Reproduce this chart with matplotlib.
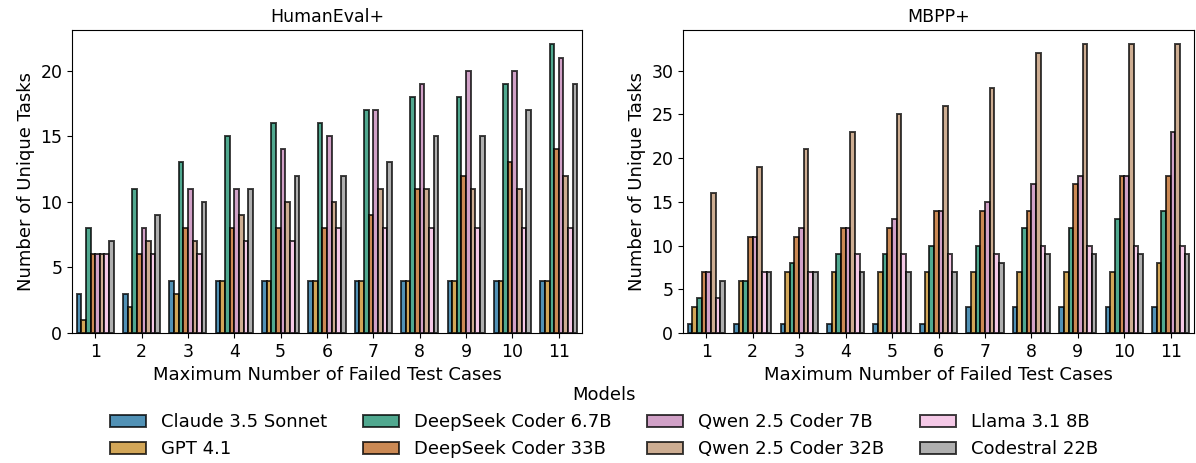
import matplotlib
matplotlib.use("Agg")
import matplotlib.pyplot as plt
import numpy as np
import seaborn as sns

models = ["Claude 3.5 Sonnet", "GPT 4.1", "DeepSeek Coder 6.7B", "DeepSeek Coder 33B",
          "Qwen 2.5 Coder 7B", "Qwen 2.5 Coder 32B", "Llama 3.1 8B", "Codestral 22B"]
x_labels = [str(i) for i in range(1, 12)]

humaneval_claude    = [3, 3, 4, 4, 4, 4, 4, 4, 4, 4, 4]
humaneval_gpt41     = [1, 2, 3, 4, 4, 4, 4, 4, 4, 4, 4]
humaneval_ds67      = [8, 11, 13, 15, 16, 16, 17, 18, 18, 19, 22]
humaneval_ds33      = [6, 6, 8, 8, 8, 8, 9, 11, 12, 13, 14]
humaneval_qwen7     = [6, 8, 11, 11, 14, 15, 17, 19, 20, 20, 21]
humaneval_qwen32    = [6, 7, 7, 9, 10, 10, 11, 11, 11, 11, 12]
humaneval_llama8    = [6, 6, 6, 7, 7, 8, 8, 8, 8, 8, 8]
humaneval_codestral = [7, 9, 10, 11, 12, 12, 13, 15, 15, 17, 19]

mbpp_claude    = [1, 1, 1, 1, 1, 1, 3, 3, 3, 3, 3]
mbpp_gpt41     = [3, 6, 7, 7, 7, 7, 7, 7, 7, 7, 8]
mbpp_ds67      = [4, 6, 8, 9, 9, 10, 10, 12, 12, 13, 14]
mbpp_ds33      = [7, 11, 11, 12, 12, 14, 14, 14, 17, 18, 18]
mbpp_qwen7     = [7, 11, 12, 12, 13, 14, 15, 17, 18, 18, 23]
mbpp_qwen32    = [16, 19, 21, 23, 25, 26, 28, 32, 33, 33, 33]
mbpp_llama8    = [4, 7, 7, 9, 9, 9, 9, 10, 10, 10, 10]
mbpp_codestral = [6, 7, 7, 7, 7, 7, 8, 9, 9, 9, 9]

humaneval = [humaneval_claude, humaneval_gpt41, humaneval_ds67, humaneval_ds33,
             humaneval_qwen7, humaneval_qwen32, humaneval_llama8, humaneval_codestral]
mbpp = [mbpp_claude, mbpp_gpt41, mbpp_ds67, mbpp_ds33,
        mbpp_qwen7, mbpp_qwen32, mbpp_llama8, mbpp_codestral]

palette = [sns.desaturate(c, 0.75) for c in sns.color_palette("colorblind", 8)]

plt.rcParams['font.family'] = ['DejaVu Sans']
plt.rcParams['font.size'] = 13

fig = plt.figure(figsize=(11.96, 4.63), dpi=100)
W, H = 1196, 463
ax1 = fig.add_axes([72 / W, 1 - 333 / H, 510 / W, 303 / H])
ax2 = fig.add_axes([683 / W, 1 - 333 / H, 511 / W, 303 / H])

n = len(models)
bw = 0.8 / n
xs = np.arange(len(x_labels))
handles = []
for ax, data, title in [(ax1, humaneval, "HumanEval+"), (ax2, mbpp, "MBPP+")]:
    for i, vals in enumerate(data):
        b = ax.bar(xs - 0.4 + bw * (i + 0.5), vals, width=bw, color=palette[i],
                   edgecolor="black", linewidth=1.4, alpha=0.75, label=models[i])
        if ax is ax1:
            handles.append(b)
    ax.set_xticks(xs)
    ax.set_xticklabels(x_labels)
    ax.set_xlim(-0.5, len(x_labels) - 0.5)
    ax.set_title(title, fontsize=12.5)
    ax.set_xlabel("Maximum Number of Failed Test Cases", fontsize=13)
    ax.set_ylabel("Number of Unique Tasks", fontsize=13)
    ax.tick_params(labelsize=12.5)

ax1.set_yticks([0, 5, 10, 15, 20])
ax2.set_yticks([0, 5, 10, 15, 20, 25, 30])

fig.legend(handles, models, loc="lower center", ncol=4, title="Models", frameon=False,
           bbox_to_anchor=(0.505, -0.025), fontsize=13, title_fontsize=13,
           columnspacing=2.0, handlelength=2.0)

fig.savefig("out.png", dpi=100)
